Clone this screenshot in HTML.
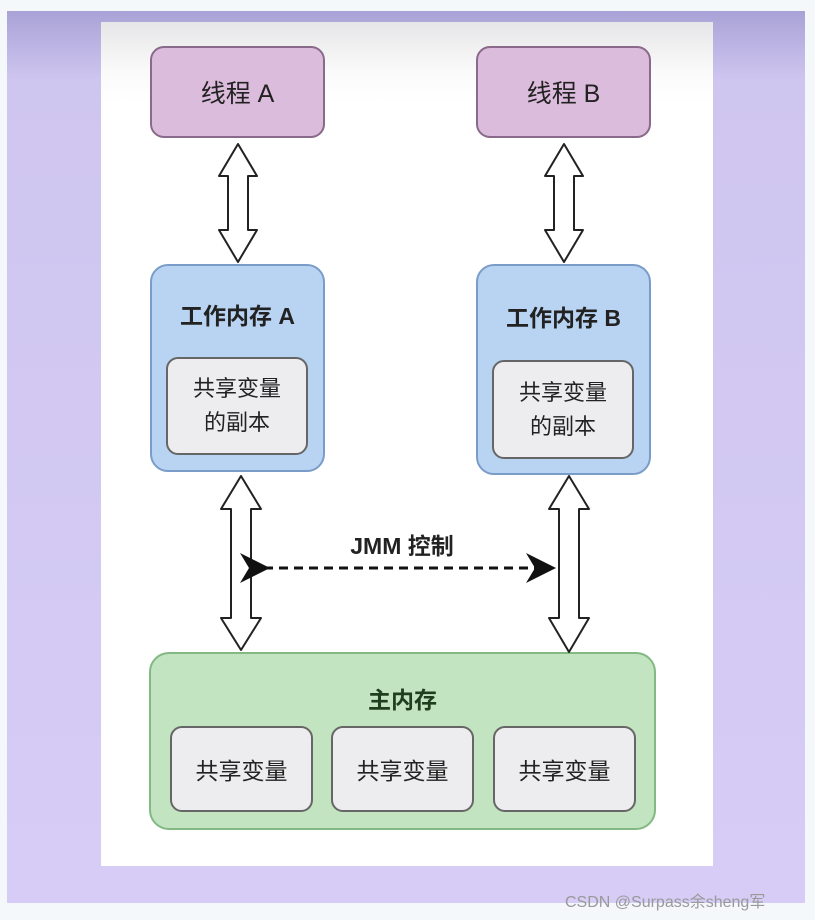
<!DOCTYPE html>
<html><head><meta charset="utf-8"><style>
body{margin:0;width:815px;height:920px;background:#f5f8fb;position:relative;overflow:hidden;font-family:"Liberation Sans","Noto Sans CJK SC",sans-serif}
.abs{position:absolute;box-sizing:border-box}
.bx{display:flex;align-items:center;justify-content:center;font-weight:bold;color:#222}
</style></head><body>
<div class="abs" style="left:7px;top:11px;width:798px;height:892px;background:linear-gradient(#a9a2d6 0px,#cfc6f0 70px,#d6ccf6 100%)"></div>
<div class="abs" style="left:101px;top:22px;width:612px;height:844px;background:linear-gradient(#e6e6e8 0px,#fafafa 50px,#fff 80px)"></div>

<div class="abs bx" style="left:150px;top:46px;width:175px;height:92px;background:#dcbcdc;border:2px solid #8a6a8a;border-radius:14px;font-size:25px;font-weight:normal">线程 A</div>
<div class="abs bx" style="left:476px;top:46px;width:175px;height:92px;background:#dcbcdc;border:2px solid #8a6a8a;border-radius:14px;font-size:25px;font-weight:normal">线程 B</div>

<div class="abs" style="left:150px;top:264px;width:175px;height:208px;background:#b8d4f2;border:2px solid #7a9cc8;border-radius:18px"></div>
<div class="abs bx" style="left:150px;top:294px;width:175px;height:40px;font-size:23px">工作内存 A</div>
<div class="abs bx" style="left:166px;top:357px;width:142px;height:98px;background:#ededf0;border:2px solid #666;border-radius:12px;font-size:22px;line-height:34px;font-weight:normal;text-align:center">共享变量<br>的副本</div>

<div class="abs" style="left:476px;top:264px;width:175px;height:211px;background:#b8d4f2;border:2px solid #7a9cc8;border-radius:18px"></div>
<div class="abs bx" style="left:476px;top:296px;width:175px;height:40px;font-size:23px">工作内存 B</div>
<div class="abs bx" style="left:492px;top:360px;width:142px;height:99px;background:#ededf0;border:2px solid #666;border-radius:12px;font-size:22px;line-height:34px;font-weight:normal;text-align:center">共享变量<br>的副本</div>

<div class="abs" style="left:149px;top:652px;width:507px;height:178px;background:#c2e4c0;border:2px solid #82b882;border-radius:20px"></div>
<div class="abs bx" style="left:149px;top:680px;width:507px;height:36px;font-size:23px;color:#1e3e1e">主内存</div>
<div class="abs bx" style="left:170px;top:726px;width:143px;height:86px;background:#ededf0;border:2px solid #666;border-radius:12px;font-size:23px;font-weight:normal">共享变量</div>
<div class="abs bx" style="left:331px;top:726px;width:143px;height:86px;background:#ededf0;border:2px solid #666;border-radius:12px;font-size:23px;font-weight:normal">共享变量</div>
<div class="abs bx" style="left:493px;top:726px;width:143px;height:86px;background:#ededf0;border:2px solid #666;border-radius:12px;font-size:23px;font-weight:normal">共享变量</div>

<svg class="abs" style="left:0;top:0" width="815" height="920">
<defs><marker id="m" markerWidth="10" markerHeight="10" refX="8" refY="5" orient="auto"><path d="M0,0 L10,5 L0,10 L3,5z" fill="#111"/></marker></defs>
<g fill="#fff" stroke="#222" stroke-width="2" stroke-linejoin="round">
<path d="M238,144 L257,176 L248,176 L248,230 L257,230 L238,262 L219,230 L228,230 L228,176 L219,176Z"/>
<path d="M564,144 L583,176 L574,176 L574,230 L583,230 L564,262 L545,230 L554,230 L554,176 L545,176Z"/>
<path d="M241,476 L261,509 L251,509 L251,618 L261,618 L241,650 L221,618 L231,618 L231,509 L221,509Z"/>
<path d="M569,476 L589,509 L579,509 L579,618 L589,618 L569,652 L549,618 L559,618 L559,509 L549,509Z"/>
</g>
<line x1="264" y1="568" x2="550" y2="568" stroke="#111" stroke-width="3" stroke-dasharray="9,6" marker-end="url(#m)" marker-start="url(#m)"/>
<text x="402" y="554" font-size="23" font-weight="bold" text-anchor="middle" fill="#222" font-family="Liberation Sans,Noto Sans CJK SC,sans-serif">JMM 控制</text>
<text x="565" y="907" font-size="16" fill="#999" font-family="Liberation Sans,Noto Sans CJK SC,sans-serif">CSDN @Surpass余sheng军</text>
</svg>
</body></html>
